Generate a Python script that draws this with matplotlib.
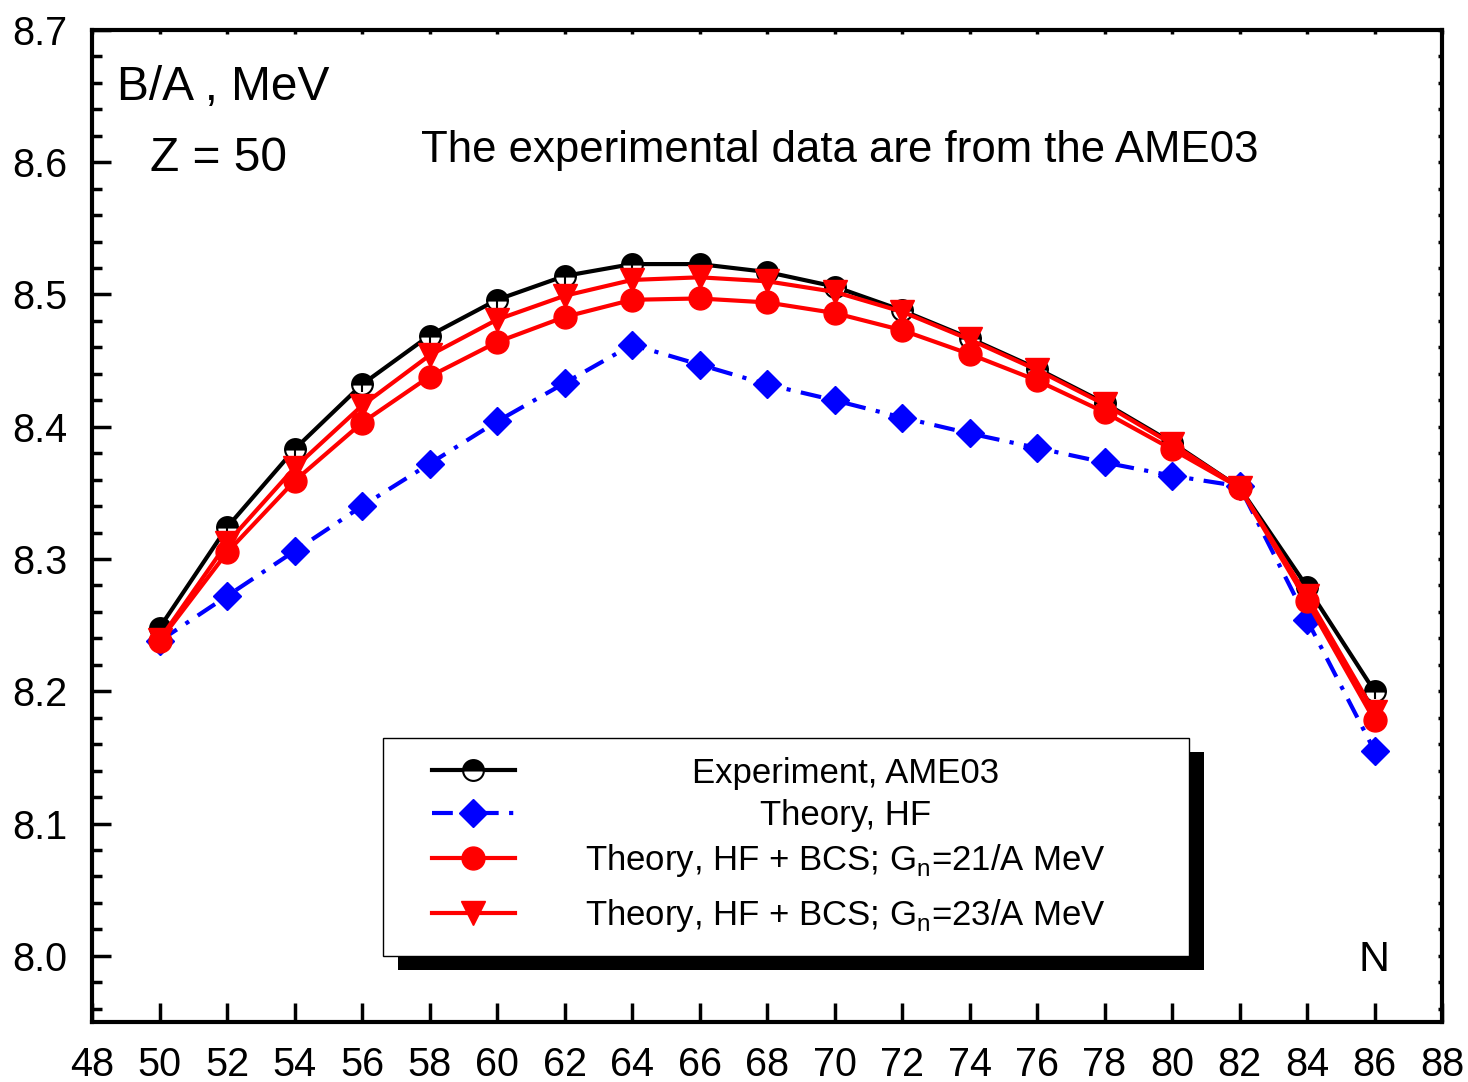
import matplotlib
matplotlib.use('Agg')
import matplotlib.pyplot as plt
from matplotlib.patches import Rectangle
from matplotlib.ticker import MultipleLocator
import numpy as np

plt.rcParams['font.family'] = ['Liberation Sans', 'DejaVu Sans']
plt.rcParams['mathtext.fontset'] = 'custom'
plt.rcParams['mathtext.rm'] = 'Liberation Sans'

# Neutron number
N = np.arange(50, 88, 2)

# B/A (MeV)
exp_ame03 = [8.248, 8.324, 8.383, 8.432, 8.469, 8.496, 8.514, 8.523, 8.523, 8.517,
             8.506, 8.488, 8.467, 8.444, 8.418, 8.388, 8.354, 8.279, 8.200]
theory_hf = [8.238, 8.272, 8.306, 8.340, 8.372, 8.404, 8.433, 8.462, 8.447, 8.432,
             8.420, 8.407, 8.395, 8.384, 8.373, 8.363, 8.355, 8.254, 8.155]
hf_bcs_21 = [8.238, 8.305, 8.359, 8.403, 8.438, 8.464, 8.483, 8.496, 8.497, 8.494,
             8.486, 8.473, 8.455, 8.435, 8.411, 8.383, 8.354, 8.268, 8.178]
hf_bcs_23 = [8.239, 8.312, 8.369, 8.416, 8.454, 8.481, 8.499, 8.511, 8.513, 8.510,
             8.502, 8.487, 8.466, 8.443, 8.417, 8.387, 8.354, 8.272, 8.184]

labels = ['Experiment, AME03',
          'Theory, HF',
          r'Theory, HF + BCS; G$_\mathregular{n}$=21/A MeV',
          r'Theory, HF + BCS; G$_\mathregular{n}$=23/A MeV']

fig = plt.figure(figsize=(14.68, 10.82), dpi=100)
ax = fig.add_axes([0.0627, 0.0555, 0.9196, 0.9168])

# series styles (used for plot and legend samples)
styles = [
    dict(color='black', lw=3, ls='-', marker='o', ms=15, fillstyle='top',
         mfc='black', mfcalt='white', mec='black', mew=1.5),
    dict(color='#0000ff', lw=3, ls=(0, (5, 2.5, 1, 2.5)), marker='D', ms=14,
         mfc='#0000ff', mec='#0000ff'),
    dict(color='#ff0000', lw=3, ls='-', marker='o', ms=16.5, mfc='#ff0000', mec='#ff0000'),
    dict(color='#ff0000', lw=3, ls='-', marker='v', ms=17.5, mfc='#ff0000', mec='#ff0000'),
]

ax.plot(N, theory_hf, zorder=2, **styles[1])
ax.plot(N, exp_ame03, zorder=3, **styles[0])
ax.plot(N, exp_ame03, ls='none', marker='+', ms=12, mew=1.5, color='black', zorder=3)
ax.plot(N, hf_bcs_21, zorder=4, **styles[2])
ax.plot(N, hf_bcs_23, zorder=5, **styles[3])

ax.set_xlim(48, 88)
ax.set_ylim(7.95, 8.7)
ax.xaxis.set_major_locator(MultipleLocator(2))
ax.yaxis.set_major_locator(MultipleLocator(0.1))
ax.yaxis.set_minor_locator(MultipleLocator(0.02))
ax.yaxis.set_major_formatter(matplotlib.ticker.FormatStrFormatter('%.1f'))

ax.tick_params(axis='x', which='major', direction='in', length=14, width=2.5,
               top=True, labelsize=28.5, pad=17)
ax.tick_params(axis='y', which='major', direction='in', length=14, width=2.5,
               right=True, labelsize=28.5, pad=18)
ax.tick_params(axis='y', which='minor', direction='in', length=7, width=2.5, right=True)
for t in ax.xaxis.get_major_ticks() + ax.yaxis.get_major_ticks() + ax.yaxis.get_minor_ticks():
    t.tick2line.set_markersize(3)
for s in ax.spines.values():
    s.set_linewidth(3)

# annotations
ax.text(0.0185, 0.929, 'B/A , MeV', transform=ax.transAxes, fontsize=34.5)
ax.text(0.043, 0.858, 'Z = 50', transform=ax.transAxes, fontsize=34.5)
ax.text(0.2437, 0.867, 'The experimental data are from the AME03',
        transform=ax.transAxes, fontsize=31.5)
ax.text(0.9496, 0.0514, 'N', transform=ax.transAxes, fontsize=31, ha='center')

# legend box with black drop shadow
ax.add_patch(Rectangle((0.2267, 0.0524), 0.597, 0.2198, transform=ax.transAxes,
                       facecolor='black', edgecolor='none', zorder=8))
ax.add_patch(Rectangle((0.2156, 0.0665), 0.597, 0.2198, transform=ax.transAxes,
                       facecolor='white', edgecolor='black', lw=1, zorder=9))
row_marker_y = [0.254, 0.2107, 0.1653, 0.1099]
row_text_y = [0.2409, 0.1986, 0.1532, 0.0978]
for st, lab, my, ty in zip(styles, labels, row_marker_y, row_text_y):
    ax.plot([0.2519, 0.3133], [my, my], transform=ax.transAxes, zorder=10,
            clip_on=False, **{k: v for k, v in st.items() if k not in ('marker', 'ms')},
            marker='none')
    ax.plot([0.2822], [my], transform=ax.transAxes, zorder=11, clip_on=False,
            **{k: v for k, v in st.items() if k not in ('lw', 'ls')}, ls='none')
    ax.text(0.558, ty, lab, transform=ax.transAxes, fontsize=25, ha='center',
            va='baseline', zorder=12)

fig.savefig('out.png', dpi=100)
